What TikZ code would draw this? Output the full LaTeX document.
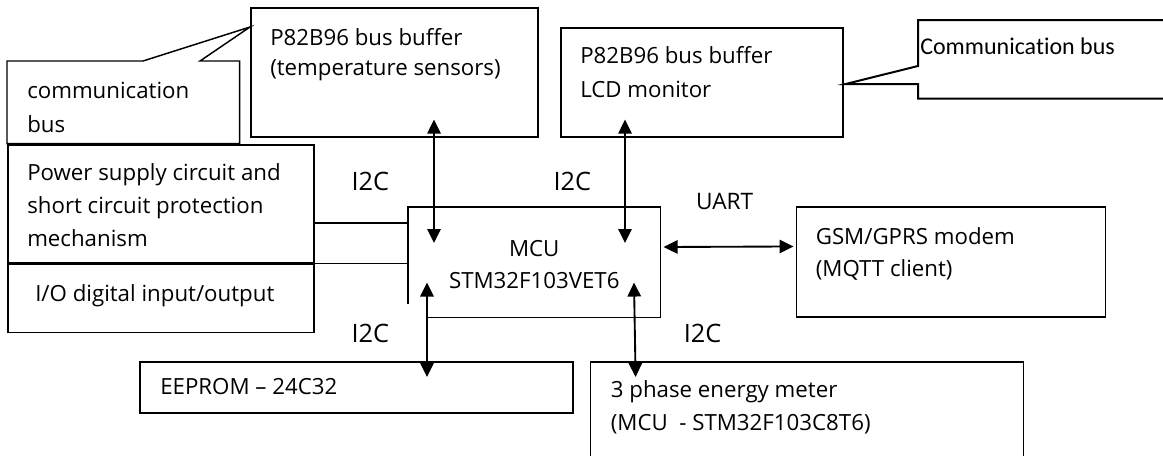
\documentclass[tikz,border=0pt]{standalone}
\usepackage{fontspec}
\setmainfont{Open Sans}
\newfontfamily\calloutfont[Ligatures=CommonOff]{Carlito}
\usetikzlibrary{arrows.meta,positioning,calc}

\begin{document}
\begin{tikzpicture}[
    x=0.75pt, y=-0.75pt,
    boxsize/.style 2 args={minimum width=#1*0.75pt, minimum height=#2*0.75pt},
    box/.style={draw, line width=1.2pt, anchor=north west, inner sep=0pt},
    bare/.style={anchor=north west, inner sep=0pt},
    txt/.style={font=\fontsize{16.7}{#1}\selectfont, align=left, anchor=north west, inner sep=0pt},
    txt/.default=24.5pt,
    bus/.style={font=\fontsize{#1}{#1}\selectfont, inner sep=0pt},
    bus/.default=19pt,
    arrow/.style={{Triangle[width=10pt,length=10.5pt]}-{Triangle[width=10pt,length=10.5pt]}, line width=1.4pt},
    wire/.style={line width=1.1pt}
]
    \path[use as bounding box, fill=white] (0,0) rectangle (1163,455);

    % Bus buffers (top)
    \node[box, boxsize={287}{129}, label={[txt=22.5pt, shift={(20,21)}]north west:{P82B96 bus buffer\\(temperature sensors)}}] (temp) at (250,7) {};
    \node[box, boxsize={282}{109}, label={[txt=25.5pt, shift={(20,19)}]north west:{P82B96 bus buffer\\LCD monitor}}] (lcd) at (560,27) {};

    % Callouts
    \node[bare, boxsize={232}{82}, label={[txt=25.5pt, shift={(20,21)}]north west:{communication\\bus}}] (lcall) at (7,61) {};
    \node[bare, boxsize={300}{78}, label={[font=\calloutfont\fontsize{18}{22}\selectfont, anchor=north west, inner sep=0pt, shift={(2,18)}]north west:{Communication bus}}] (rcall) at (918,20) {};

    % Power supply and I/O (left)
    \node[box, boxsize={306}{118}, label={[txt=24.75pt, shift={(20,19)}]north west:{Power supply circuit and\\short circuit protection\\mechanism}}] (power) at (7,144) {};
    \node[box, boxsize={306}{68}, below right=0pt and 0pt of power.south west, label={[txt, shift={(28,21)}]north west:{I/O digital input/output}}] (io) {};

    % MCU (centre)
    \node[bare, boxsize={252}{110}, label={[txt=24pt, anchor=north, align=center, shift={(0,33)}]north:{MCU\\STM32F103VET6}}] (mcu) at (408,207) {};

    % GSM modem (right)
    \node[box, boxsize={309}{110}, right=101.25pt of mcu, label={[txt=24pt, shift={(20,21)}]north west:{GSM/GPRS modem\\(MQTT client)}}] (gsm) {};

    % EEPROM and energy meter (bottom)
    \node[box, boxsize={433}{51}, label={[txt, shift={(21,17)}]north west:{EEPROM – 24C32}}] (eeprom) at (139,361) {};
    \node[box, boxsize={433}{110}, label={[txt=24.75pt, shift={(21,19)}]north west:{3 phase energy meter\\(MCU\ \ - STM32F103C8T6)}}] (energy) at ([xshift=12pt]eeprom.north east) {};

    % MCU outline (open at lower left)
    \draw[wire] ([shift={(0,-14)}]mcu.south west) -- (mcu.north west) -- (mcu.north east)
        -- (mcu.south east) -- ([shift={(19,0)}]mcu.south west);

    % Callout outlines
    \coordinate (ltip) at ([shift={(0,20)}]temp.north west);
    \draw[wire] (lcall.north west) -- ([shift={(136,0)}]lcall.north west) -- (ltip)
        -- ([shift={(193,0)}]lcall.north west) -- (lcall.north east) -- (lcall.south east)
        -- (lcall.south west) -- cycle;
    \coordinate (rtip) at ([shift={(2,57)}]lcd.north east);
    \draw[line width=1.5pt] (rcall.north east) -- (rcall.north west) -- ([shift={(0,46)}]rcall.north west)
        -- (rtip) -- ([shift={(0,64)}]rcall.north west) -- (rcall.south west) -- (rcall.south east);

    % Power wires
    \coordinate (pw) at ([shift={(0,19)}]power.east);
    \draw[wire] (pw) -- (pw -| mcu.west);
    \draw[wire] (power.south east) -- (power.south east -| mcu.west);

    % I2C and UART links
    \draw[arrow] ([shift={(184,-18)}]temp.south west) -- node[bus, left=33pt] (i2ca) {I2C} ([shift={(26,36)}]mcu.north west);
    \draw[arrow] ([shift={(65,-18)}]lcd.south west) -- node[bus, left=24.75pt] (i2cb) {I2C} ([shift={(217,36)}]mcu.north west);
    \draw[arrow] ([shift={(3,40)}]mcu.north east) -- node[bus=17pt, pos=.47, above=27pt] (uart) {UART} ([shift={(-2,40)}]gsm.north west);
    \draw[arrow] ([shift={(19,-35)}]mcu.south west) -- node[bus, pos=.54, left=27.75pt] (i2cc) {I2C} ([shift={(288,16)}]eeprom.north west);
    \draw[arrow] ([shift={(226,-35)}]mcu.south west) -- node[bus, pos=.54, right=36pt] (i2cd) {I2C} ([shift={(46,16)}]energy.north west);

\end{tikzpicture}
\end{document}
